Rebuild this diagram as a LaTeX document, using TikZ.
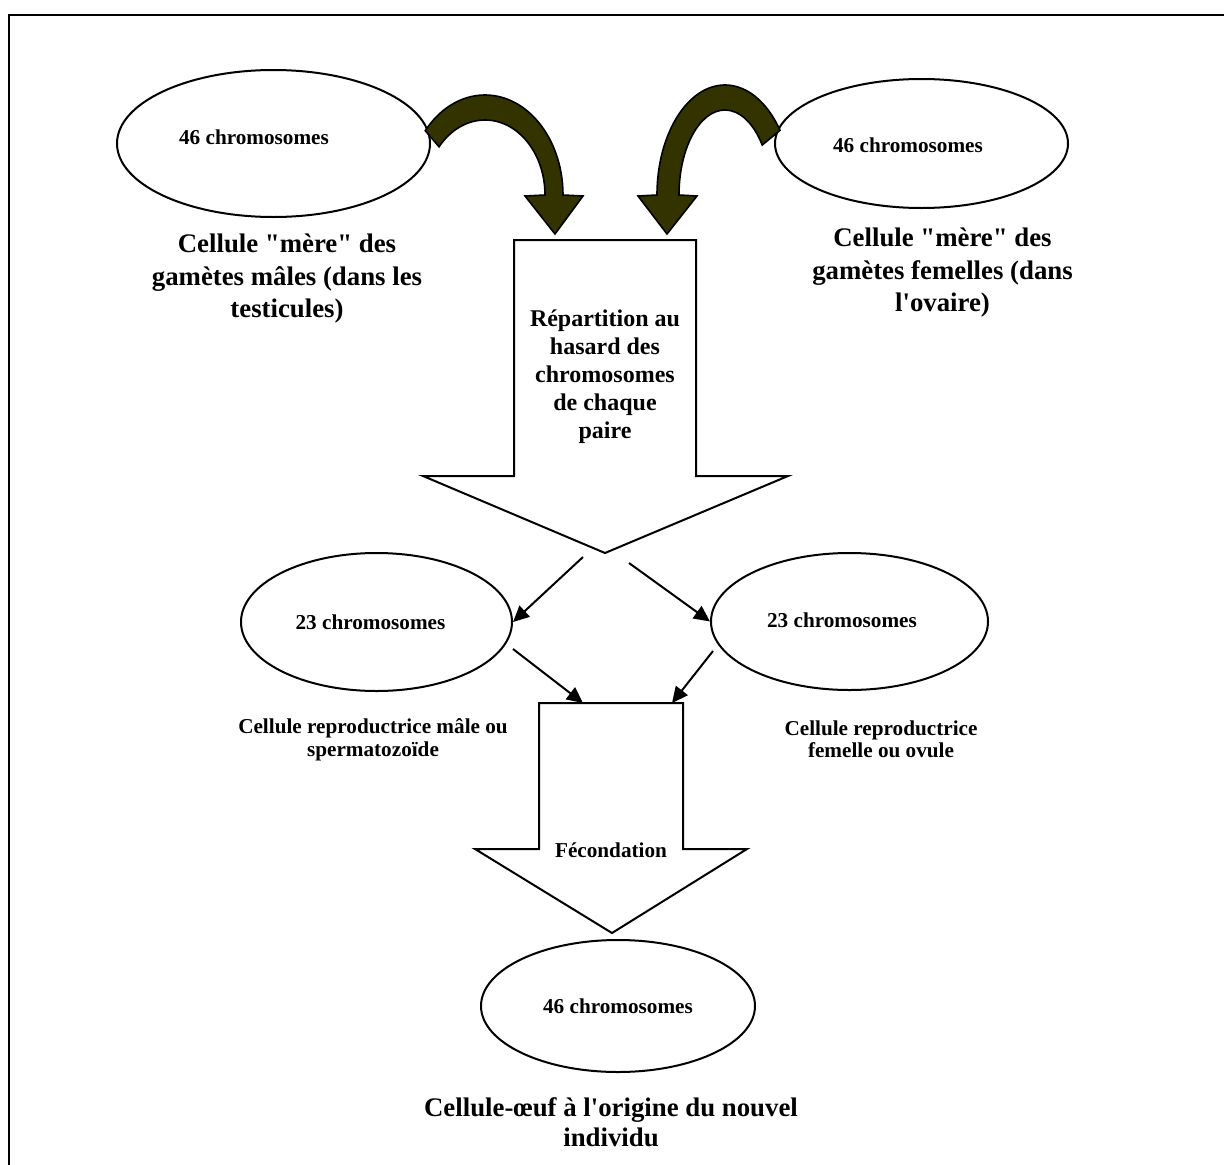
\documentclass[tikz,border=0pt]{standalone}
\usepackage{fontspec}
\setmainfont{Liberation Serif}[Ligatures=TeXReset]
\usetikzlibrary{shapes.geometric, arrows.meta, calc}
\definecolor{olivedark}{HTML}{333300}

\begin{document}
\begin{tikzpicture}[
    x=1pt, y=-1pt,
    cell/.style 2 args={ellipse, draw, line width=2pt, inner sep=0pt,
                        minimum width=#1pt, minimum height=#2pt},
    chromo/.style={font=\fontsize{21.2}{24}\selectfont\bfseries},
    title/.style={font=\fontsize{26.8}{32.5}\selectfont\bfseries, align=center},
    caption/.style={font=\fontsize{21.2}{22.5}\selectfont\bfseries, align=center},
    bigarrow/.style={draw, line width=2pt, fill=white, line join=miter},
    curved/.style={draw, line width=1.6pt, fill=olivedark, line join=miter},
    arr/.style={-{Triangle[length=16pt, width=15pt]}, line width=2pt},
  ]
  \useasboundingbox (0,0) rectangle (1224,1165);

  % ── Frame ──
  \draw[line width=2.6pt] (9,1165) -- (9,15) -- (1224,15);

  % ── Mother cells ──
  \node[cell={313}{147}] (mereM) at (273.5,143.5) {};
  \node[chromo] (mereMtxt) at (254,137) {46 chromosomes};
  \node[title] (mereMlbl) at (287,279) {Cellule "mère" des\\gamètes mâles (dans les\\testicules)};

  \node[cell={293}{129}] (mereF) at (921.5,143.5) {};
  \node[chromo] (mereFtxt) at (908,145) {46 chromosomes};
  \node[title] (mereFlbl) at (942.5,273) {Cellule "mère" des\\gamètes femelles (dans\\l'ovaire)};

  % ── Curved arrows ──
  \draw[curved] (485,195) ++(220:78 and 100)
    arc[start angle=220, end angle=360, x radius=78, y radius=100]
    -- (583,196) -- (555,234) -- (525,196) -- (545,195)
    arc[start angle=360, end angle=220, x radius=60, y radius=75] -- cycle;
  \draw[curved] (725,195) ++(-36:68 and 110)
    arc[start angle=-36, end angle=-180, x radius=68, y radius=110]
    -- (638,196) -- (667,234) -- (697,196) -- (679,195)
    arc[start angle=-180, end angle=-36, x radius=46, y radius=85] -- cycle;

  % ── Meiosis ──
  \draw[bigarrow] (514,240) -- (696,240) -- (696,476) -- (788,476)
    -- (605,553) -- (423,476) -- (514,476) -- cycle;
  \node[font=\fontsize{24}{28}\selectfont\bfseries, align=center] (repart) at (605,377)
    {Répartition au\\hasard des\\chromosomes\\de chaque\\paire};
  \coordinate (splitL) at (583,557);
  \coordinate (splitR) at (629,563);

  % ── Gametes ──
  \node[cell={271}{138}] (gamM) at (376.5,622) {};
  \node[chromo] (gamMtxt) at (370.5,622) {23 chromosomes};
  \node[caption] (gamMlbl) at (373,740) {Cellule reproductrice mâle ou\\spermatozoïde};

  \node[cell={277}{137}] (gamF) at (849.5,621.5) {};
  \node[chromo] (gamFtxt) at (842,620) {23 chromosomes};
  \node[caption] (gamFlbl) at (881,739.5) {Cellule reproductrice\\femelle ou ovule};

  \draw[arr] (splitL) -- (gamM.east);
  \draw[arr] (splitR) -- (gamF.west);

  % ── Fertilisation ──
  \draw[bigarrow] (539,703) -- (683,703) -- (683,849) -- (747,849)
    -- (612,933) -- (475,849) -- (539,849) -- cycle;
  \node[chromo] (fecond) at (611,850) {Fécondation};
  \coordinate (fromM) at (513,649);
  \coordinate (fromF) at (713,651);
  \coordinate (fecL) at (583,703);
  \coordinate (fecR) at (672,703);
  \draw[arr] (fromM) -- (fecL);
  \draw[arr] (fromF) -- (fecR);

  % ── Egg cell ──
  \node[cell={274}{132}] (oeuf) at (618,1006) {};
  \node[chromo] (oeuftxt) at (618,1006) {46 chromosomes};
  \node[title, font=\fontsize{26.8}{30}\selectfont\bfseries] (oeuflbl) at (611,1122)
    {Cellule-œuf à l'origine du nouvel\\individu};

\end{tikzpicture}
\end{document}
